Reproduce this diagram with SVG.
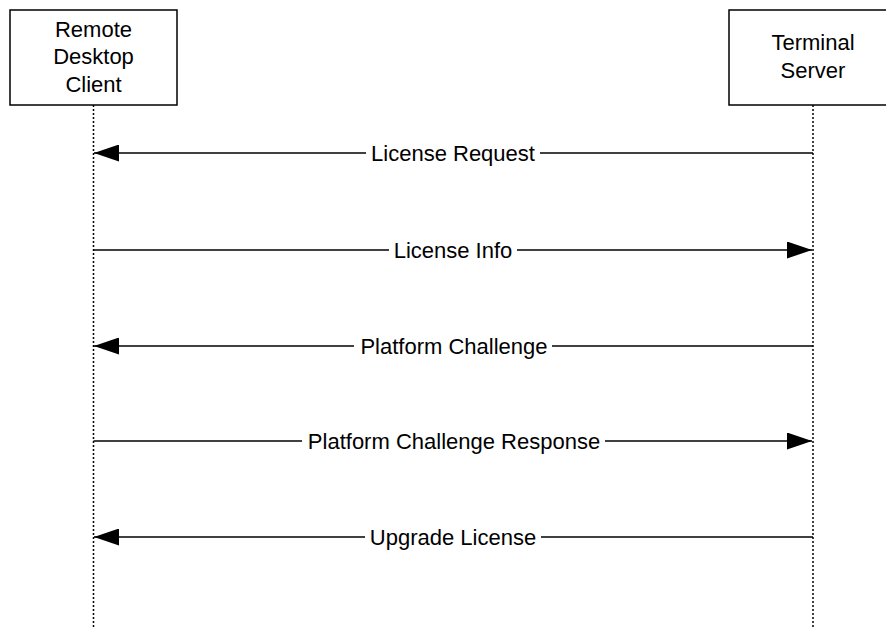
<svg xmlns="http://www.w3.org/2000/svg" width="886" height="629" viewBox="0 0 886 629">
<style>
.box{fill:#fff;stroke:#000;stroke-width:1.5}
.life{stroke:#000;stroke-width:1.5;stroke-dasharray:2 2;fill:none}
.msg{stroke:#000;stroke-width:1.6;fill:none}
.lbl{font-family:"Liberation Sans",Arial,sans-serif;font-size:22px;fill:#000;text-anchor:middle}
.bg{fill:#fff}
</style>
<defs>
<marker id="ah" markerWidth="25" markerHeight="17" refX="25" refY="8.5" orient="auto" markerUnits="userSpaceOnUse">
<path d="M0,0 L25,8.5 L0,17 Z" fill="#000"/>
</marker>
</defs>
<rect width="886" height="629" fill="#fff"/>
<g id="client">
<rect class="box" x="10" y="10" width="167" height="95"/>
<text class="lbl" x="93.5" y="37">Remote</text>
<text class="lbl" x="93.5" y="64">Desktop</text>
<text class="lbl" x="93.5" y="92">Client</text>
</g>
<g id="server">
<rect class="box" x="729" y="10" width="168" height="95"/>
<text class="lbl" x="813" y="50">Terminal</text>
<text class="lbl" x="813" y="78">Server</text>
</g>
<g id="connectors">
<line class="life" x1="93.5" y1="105" x2="93.5" y2="629"/>
<line class="life" x1="813" y1="105" x2="813" y2="629"/>
<line class="msg" x1="813" y1="153" x2="94" y2="153" marker-end="url(#ah)"/>
<rect class="bg" x="366" y="140" width="174" height="26"/>
<text class="lbl" x="453" y="161">License Request</text>
<line class="msg" x1="93.5" y1="250" x2="812" y2="250" marker-end="url(#ah)"/>
<rect class="bg" x="389" y="237" width="128" height="26"/>
<text class="lbl" x="453" y="258">License Info</text>
<line class="msg" x1="813" y1="346" x2="94" y2="346" marker-end="url(#ah)"/>
<rect class="bg" x="354" y="333" width="198" height="26"/>
<text class="lbl" x="454" y="354">Platform Challenge</text>
<line class="msg" x1="93.5" y1="441" x2="812" y2="441" marker-end="url(#ah)"/>
<rect class="bg" x="302" y="428" width="303" height="26"/>
<text class="lbl" x="454" y="449">Platform Challenge Response</text>
<line class="msg" x1="813" y1="537" x2="94" y2="537" marker-end="url(#ah)"/>
<rect class="bg" x="365" y="524" width="176" height="26"/>
<text class="lbl" x="453" y="545">Upgrade License</text>
</g>
</svg>
